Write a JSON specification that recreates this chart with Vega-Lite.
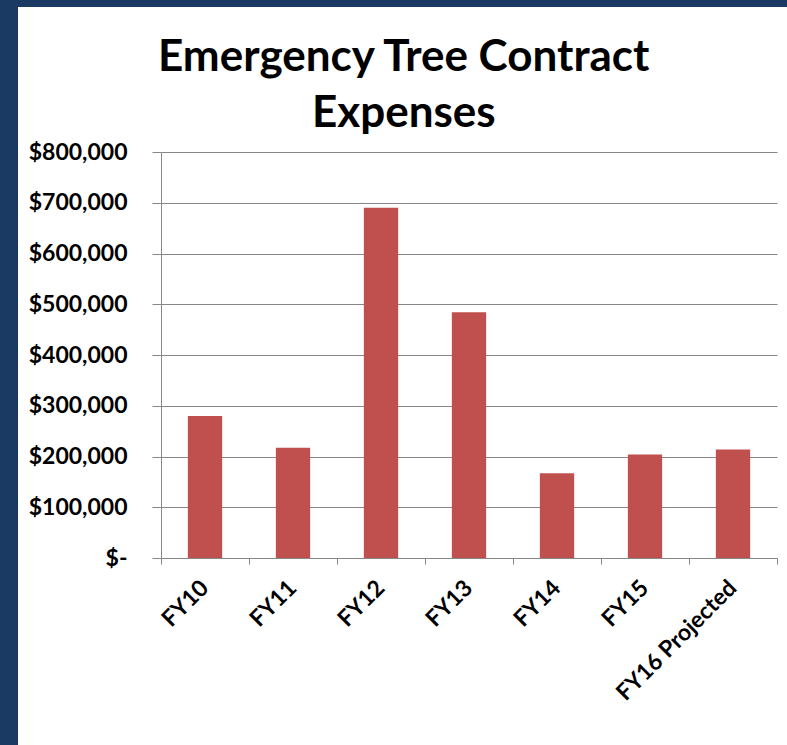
{
  "$schema": "https://vega.github.io/schema/vega-lite/v6.json",
  "background": "white",
  "padding": 0,
  "spacing": 0,
  "config": {
    "font": "Lato",
    "concat": {"spacing": 0}
  },
  "vconcat": [
    {
      "width": 787,
      "height": 7,
      "view": {"fill": "#1b3a63", "stroke": null},
      "data": {"values": []},
      "mark": "rect",
      "encoding": {}
    },
    {
      "spacing": 0,
      "hconcat": [
        {
          "width": 18,
          "height": 738,
          "view": {"fill": "#1b3a63", "stroke": null},
          "data": {"values": []},
          "mark": "rect",
          "encoding": {}
        },
        {
          "spacing": 28,
          "vconcat": [
            {
              "width": 1,
              "height": 1,
              "view": {"fill": null, "stroke": null},
              "data": {"values": []},
              "mark": "rect",
              "encoding": {}
            },
            {
              "width": 616,
              "height": 406,
              "view": {"fill": "white", "stroke": null},
              "title": {
                "text": ["Emergency Tree Contract", "Expenses"],
                "font": "Lato",
                "fontSize": 44,
                "fontWeight": "bold",
                "color": "black",
                "anchor": "middle",
                "frame": "bounds",
                "lineHeight": 56,
                "offset": 5,
                "dx": 6
              },
              "data": {
                "values": [
                  {"year": "FY10", "expense": 280000},
                  {"year": "FY11", "expense": 217000},
                  {"year": "FY12", "expense": 690000},
                  {"year": "FY13", "expense": 484000},
                  {"year": "FY14", "expense": 167000},
                  {"year": "FY15", "expense": 204000},
                  {"year": "FY16 Projected", "expense": 214000}
                ]
              },
              "mark": {"type": "bar", "color": "#c0504d", "width": {"band": 0.39}},
              "encoding": {
                "x": {
                  "field": "year",
                  "type": "nominal",
                  "sort": null,
                  "title": null,
                  "scale": {"paddingInner": 0, "paddingOuter": 0},
                  "axis": {
                    "bandPosition": 1,
                    "tickExtra": true,
                    "labelAngle": -45,
                    "labelAlign": "right",
                    "labelBaseline": "middle",
                    "labelFont": "Lato",
                    "labelFontSize": 23,
                    "labelFontWeight": "bold",
                    "labelColor": "black",
                    "labelPadding": 20,
                    "tickSize": 6,
                    "tickColor": "#868686",
                    "domainColor": "#868686",
                    "grid": false
                  }
                },
                "y": {
                  "field": "expense",
                  "type": "quantitative",
                  "title": null,
                  "scale": {"domain": [0, 800000], "nice": false},
                  "axis": {
                    "values": [0, 100000, 200000, 300000, 400000, 500000, 600000, 700000, 800000],
                    "labelExpr": "datum.value == 0 ? '$-' : '$' + format(datum.value, ',')",
                    "labelFont": "Lato",
                    "labelFontSize": 23,
                    "labelFontWeight": "bold",
                    "labelColor": "black",
                    "labelPadding": 25,
                    "tickSize": 9,
                    "tickColor": "#868686",
                    "domainColor": "#868686",
                    "gridColor": "#868686",
                    "grid": true,
                    "minExtent": 143,
                    "maxExtent": 143
                  }
                }
              }
            }
          ]
        }
      ]
    }
  ]
}
